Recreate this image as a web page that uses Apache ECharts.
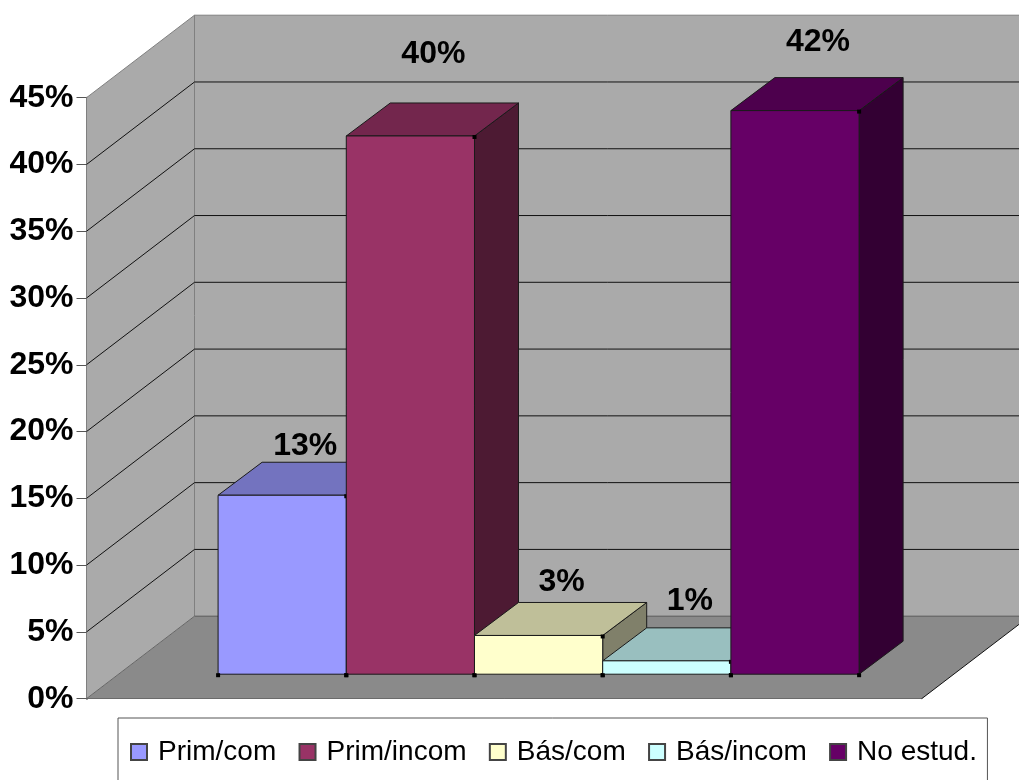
<!DOCTYPE html>
<html>
<head>
<meta charset="utf-8">
<style>html,body{margin:0;padding:0;background:#fff;overflow:hidden}#c{width:1019px;height:780px}</style>
<script src="https://cdn.jsdelivr.net/npm/echarts@6/dist/echarts.min.js"></script>
</head>
<body>
<div id="c"></div>
<script>
var categories = [''];
var seriesNames = ['Prim/com', 'Prim/incom', 'Bás/com', 'Bás/incom', 'No estud.'];
var seriesValues = [13.4, 40.3, 2.9, 1.0, 42.2];
var yTicks = [0, 5, 10, 15, 20, 25, 30, 35, 40, 45];

var frontColors = ['#9999FF', '#993366', '#FFFFCC', '#CCFFFF', '#660066'];
var topColors = ['#7373BF', '#73264D', '#BFBF99', '#99BFBF', '#4D004D'];
var sideColors = ['#4D4D80', '#4D1A33', '#80806A', '#668080', '#330033'];
var labelLift = [50, 83, 54, 61, 69];

var WALL = [108, -82.5], PLANE = [34.5, -24.5], BAR = [44, -33], BAR_SHARE = 0.1535;
var FONT = '"Liberation Sans", Arial, sans-serif';
var EDGE = '#1a1a1a';

function poly(pts, fill, stroke, w) {
  return { type: 'polygon', shape: { points: pts }, style: { fill: fill, stroke: stroke || null, lineWidth: w || 1 } };
}
function seg(a, b, stroke) {
  return { type: 'line', shape: { x1: a[0], y1: a[1], x2: b[0], y2: b[1] }, style: { stroke: stroke, lineWidth: 1 } };
}
function dot(x, y) {
  return { type: 'rect', shape: { x: x - 2, y: y - 1, width: 4, height: 4 }, style: { fill: '#000' } };
}

function renderWalls(params, api) {
  var g = params.coordSys, L = g.x, R = g.x + g.width;
  var y0 = api.coord([0, 0])[1], yMax = api.coord([0, 45])[1];
  var bx = L + WALL[0], RB = R + WALL[0];
  var kids = [
    poly([[L, y0], [bx, y0 + WALL[1]], [bx, yMax + WALL[1]], [L, yMax]], '#AAAAAA'),
    poly([[bx, y0 + WALL[1]], [RB, y0 + WALL[1]], [RB, yMax + WALL[1]], [bx, yMax + WALL[1]]], '#AAAAAA'),
    poly([[L, y0], [bx, y0 + WALL[1]], [RB, y0 + WALL[1]], [R, y0]], '#8A8A8A'),
    seg([bx, y0 + WALL[1]], [bx, yMax + WALL[1]], '#808080'),
    seg([L, y0], [bx, y0 + WALL[1]], '#666'),
    seg([R, y0], [RB, y0 + WALL[1]], '#111')
  ];
  yTicks.forEach(function (t) {
    var y = api.coord([0, t])[1];
    var c = t === 45 ? '#808080' : (t === 0 ? '#555' : '#111');
    if (t > 0) kids.push(seg([L, y], [bx, y + WALL[1]], c));
    kids.push(seg([bx, y + WALL[1]], [RB, y + WALL[1]], c));
  });
  return { type: 'group', silent: true, children: kids };
}

function renderBar(i) {
  return function (params, api) {
    var g = params.coordSys, w = g.width * BAR_SHARE;
    var top = api.coord([api.value(0), api.value(1)]);
    var bottom = api.coord([api.value(0), 0]);
    var x0 = top[0] + PLANE[0] + (i - 2.5) * w, x1 = x0 + w;
    var yt = top[1] + PLANE[1], yb = bottom[1] + PLANE[1];
    var dx = BAR[0], dy = BAR[1];
    var kids = [
      poly([[x1, yb], [x1 + dx, yb + dy], [x1 + dx, yt + dy], [x1, yt]], sideColors[i], EDGE),
      poly([[x0, yt], [x0 + dx, yt + dy], [x1 + dx, yt + dy], [x1, yt]], topColors[i], EDGE),
      poly([[x0, yb], [x1, yb], [x1, yt], [x0, yt]], frontColors[i], EDGE),
      dot(x0, yb), dot(x1, yb), dot(x1, yt),
      {
        type: 'text', z2: 10,
        style: {
          x: (x0 + x1) / 2 + 23, y: yt - labelLift[i] + 1,
          text: Math.round(api.value(1)) + '%',
          font: 'bold 32px ' + FONT, fill: '#000', align: 'center', verticalAlign: 'middle'
        }
      }
    ];
    return { type: 'group', children: kids };
  };
}

var series = [{
  type: 'custom', name: 'walls', silent: true,
  renderItem: renderWalls, encode: { x: 0, y: 1 },
  data: [[categories[0], 0]]
}];
seriesNames.forEach(function (name, i) {
  series.push({
    type: 'custom', name: name,
    renderItem: renderBar(i), encode: { x: 0, y: 1 },
    itemStyle: { color: frontColors[i], borderColor: '#444', borderWidth: 1 },
    data: [[categories[0], seriesValues[i]]]
  });
});

var chart = echarts.init(document.getElementById('c'), null, { renderer: 'canvas' });
chart.setOption({
  animation: false,
  backgroundColor: '#fff',
  grid: { left: 86.5, right: 97.3, top: 97.7, bottom: 81.3, containLabel: false },
  xAxis: {
    type: 'category', data: categories,
    axisLine: { show: true, lineStyle: { color: '#111', width: 1 } },
    axisTick: { show: false }, axisLabel: { show: false }, splitLine: { show: false }
  },
  yAxis: {
    type: 'value', min: 0, max: 45, interval: 5,
    axisLine: { show: true, lineStyle: { color: '#555', width: 2 } },
    axisTick: { show: true, length: 10, lineStyle: { color: '#555', width: 1 } },
    axisLabel: { formatter: '{value}%', margin: 13, padding: [3, 0, 0, 0], fontFamily: FONT, fontWeight: 'bold', fontSize: 32, color: '#000' },
    splitLine: { show: false }
  },
  legend: {
    data: seriesNames, left: 118, top: 718,
    orient: 'horizontal', icon: 'rect', itemWidth: 16, itemHeight: 16, itemGap: 22.3,
    padding: [20, 10.5, 30, 12],
    backgroundColor: '#fff', borderColor: '#555', borderWidth: 1, borderRadius: 0,
    selectedMode: false,
    textStyle: { fontFamily: FONT, fontSize: 28, color: '#000', padding: [1, 0, 0, 6] }
  },
  tooltip: { show: false },
  series: series
});
</script>
</body>
</html>
